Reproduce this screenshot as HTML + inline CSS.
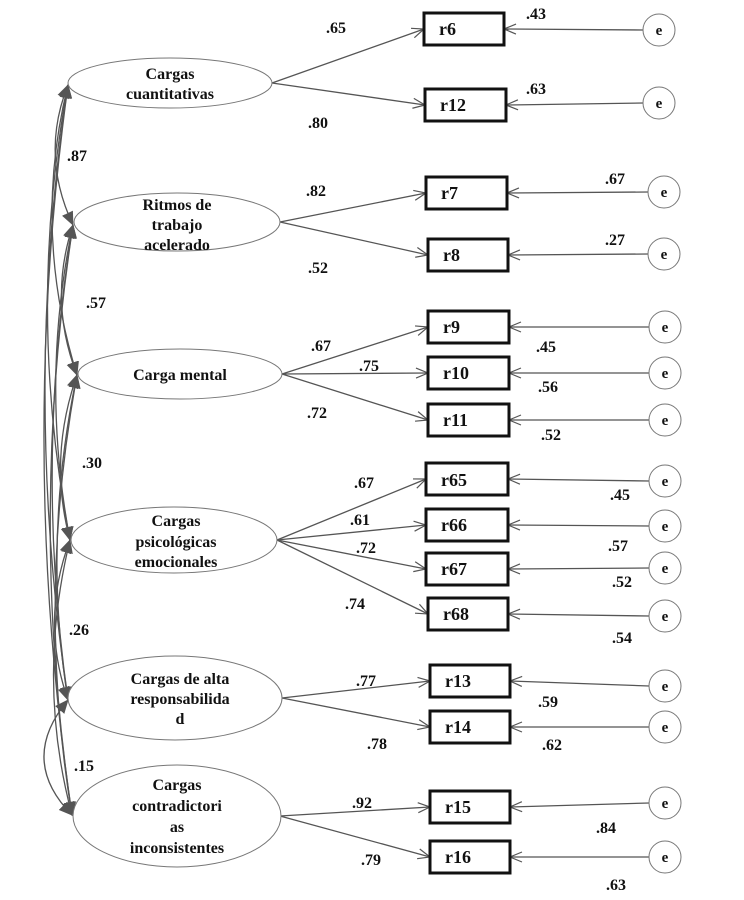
<!DOCTYPE html>
<html><head><meta charset="utf-8"><style>
html,body{margin:0;padding:0;background:#fff}
svg{display:block}
text{font-family:"Liberation Serif",serif;font-weight:bold;fill:#111}
</style></head><body>
<svg width="744" height="900" viewBox="0 0 744 900" xmlns="http://www.w3.org/2000/svg">
<defs>
<marker id="o" markerWidth="14" markerHeight="12" refX="13" refY="6" orient="auto" markerUnits="userSpaceOnUse">
<path d="M1,1 L13,6 L1,11" fill="none" stroke="#555" stroke-width="1.2"/></marker>
<marker id="f" markerWidth="14" markerHeight="14" refX="13" refY="7" orient="auto-start-reverse" markerUnits="userSpaceOnUse">
<path d="M0,1 L14,7 L0,13 z" fill="#555"/></marker>
</defs>
<g fill="none" stroke="#555" stroke-width="1.3">
<path d="M68,85 Q40,155 73,225" marker-start="url(#f)" marker-end="url(#f)"/>
<path d="M68,85 Q32,230 77,375" marker-start="url(#f)" marker-end="url(#f)"/>
<path d="M68,85 Q26,310 70,540" marker-start="url(#f)" marker-end="url(#f)"/>
<path d="M68,85 Q22,390 68,700" marker-start="url(#f)" marker-end="url(#f)"/>
<path d="M68,85 Q18,450 72,815" marker-start="url(#f)" marker-end="url(#f)"/>
<path d="M73,225 Q48,300 77,375" marker-start="url(#f)" marker-end="url(#f)"/>
<path d="M73,225 Q40,380 70,540" marker-start="url(#f)" marker-end="url(#f)"/>
<path d="M73,225 Q34,460 68,700" marker-start="url(#f)" marker-end="url(#f)"/>
<path d="M73,225 Q28,520 72,815" marker-start="url(#f)" marker-end="url(#f)"/>
<path d="M77,375 Q48,458 70,540" marker-start="url(#f)" marker-end="url(#f)"/>
<path d="M77,375 Q42,540 68,700" marker-start="url(#f)" marker-end="url(#f)"/>
<path d="M77,375 Q36,600 72,815" marker-start="url(#f)" marker-end="url(#f)"/>
<path d="M70,540 Q40,620 68,700" marker-start="url(#f)" marker-end="url(#f)"/>
<path d="M70,540 Q36,680 72,815" marker-start="url(#f)" marker-end="url(#f)"/>
<path d="M68,700 Q18,760 72,815" marker-start="url(#f)" marker-end="url(#f)"/>
<path d="M272,83 L424,29" marker-end="url(#o)"/>
<path d="M272,83 L425,105" marker-end="url(#o)"/>
<path d="M280,222 L426,193" marker-end="url(#o)"/>
<path d="M280,222 L428,255" marker-end="url(#o)"/>
<path d="M282,374 L428,327" marker-end="url(#o)"/>
<path d="M282,374 L428,373" marker-end="url(#o)"/>
<path d="M282,374 L428,420" marker-end="url(#o)"/>
<path d="M277,540 L426,479" marker-end="url(#o)"/>
<path d="M277,540 L426,525" marker-end="url(#o)"/>
<path d="M277,540 L426,569" marker-end="url(#o)"/>
<path d="M277,540 L428,614" marker-end="url(#o)"/>
<path d="M282,698 L430,681" marker-end="url(#o)"/>
<path d="M282,698 L430,727" marker-end="url(#o)"/>
<path d="M280,816 L430,807" marker-end="url(#o)"/>
<path d="M280,816 L430,857" marker-end="url(#o)"/>
<path d="M643,30 L504,29" marker-end="url(#o)"/>
<path d="M643,103 L506,105" marker-end="url(#o)"/>
<path d="M648,192 L507,193" marker-end="url(#o)"/>
<path d="M648,254 L508,255" marker-end="url(#o)"/>
<path d="M649,327 L509,327" marker-end="url(#o)"/>
<path d="M649,373 L509,373" marker-end="url(#o)"/>
<path d="M649,420 L509,420" marker-end="url(#o)"/>
<path d="M649,481 L508,479" marker-end="url(#o)"/>
<path d="M649,526 L508,525" marker-end="url(#o)"/>
<path d="M649,568 L508,569" marker-end="url(#o)"/>
<path d="M649,616 L508,614" marker-end="url(#o)"/>
<path d="M649,686 L510,681" marker-end="url(#o)"/>
<path d="M649,727 L510,727" marker-end="url(#o)"/>
<path d="M649,803 L510,807" marker-end="url(#o)"/>
<path d="M649,857 L510,857" marker-end="url(#o)"/>
</g>
<g fill="#fff" stroke="#777" stroke-width="1">
<ellipse cx="170" cy="83" rx="102" ry="25"/>
<ellipse cx="177" cy="222" rx="103" ry="29"/>
<ellipse cx="180" cy="374" rx="102" ry="25"/>
<ellipse cx="174" cy="540" rx="103" ry="33"/>
<ellipse cx="175" cy="698" rx="107" ry="42"/>
<ellipse cx="177" cy="816" rx="104" ry="51"/>
<circle cx="659" cy="30" r="16"/><circle cx="659" cy="103" r="16"/>
<circle cx="664" cy="192" r="16"/><circle cx="664" cy="254" r="16"/>
<circle cx="665" cy="327" r="16"/><circle cx="665" cy="373" r="16"/><circle cx="665" cy="420" r="16"/>
<circle cx="665" cy="481" r="16"/><circle cx="665" cy="526" r="16"/><circle cx="665" cy="568" r="16"/><circle cx="665" cy="616" r="16"/>
<circle cx="665" cy="686" r="16"/><circle cx="665" cy="727" r="16"/>
<circle cx="665" cy="803" r="16"/><circle cx="665" cy="857" r="16"/>
</g>
<g fill="#fff" stroke="#111" stroke-width="3">
<rect x="424" y="13" width="80" height="32"/>
<rect x="425" y="89" width="81" height="32"/>
<rect x="426" y="177" width="81" height="32"/>
<rect x="428" y="239" width="80" height="32"/>
<rect x="428" y="311" width="81" height="32"/>
<rect x="428" y="357" width="81" height="32"/>
<rect x="428" y="404" width="81" height="32"/>
<rect x="426" y="463" width="82" height="32"/>
<rect x="426" y="509" width="82" height="32"/>
<rect x="426" y="553" width="82" height="32"/>
<rect x="428" y="598" width="80" height="32"/>
<rect x="430" y="665" width="80" height="32"/>
<rect x="430" y="711" width="80" height="32"/>
<rect x="430" y="791" width="80" height="32"/>
<rect x="430" y="841" width="80" height="32"/>
</g>
<g font-size="18">
<text x="439" y="35">r6</text><text x="440" y="111">r12</text>
<text x="441" y="199">r7</text><text x="443" y="261">r8</text>
<text x="443" y="333">r9</text><text x="443" y="379">r10</text><text x="443" y="426">r11</text>
<text x="441" y="486">r65</text><text x="441" y="531">r66</text><text x="441" y="575">r67</text><text x="443" y="620">r68</text>
<text x="445" y="687">r13</text><text x="445" y="733">r14</text><text x="445" y="813">r15</text><text x="445" y="863">r16</text>
</g>
<g font-size="15" text-anchor="middle">
<text x="659" y="35">e</text><text x="659" y="108">e</text><text x="664" y="197">e</text><text x="664" y="259">e</text>
<text x="665" y="332">e</text><text x="665" y="378">e</text><text x="665" y="425">e</text>
<text x="665" y="486">e</text><text x="665" y="531">e</text><text x="665" y="573">e</text><text x="665" y="621">e</text>
<text x="665" y="691">e</text><text x="665" y="732">e</text><text x="665" y="808">e</text><text x="665" y="862">e</text>
</g>
<g font-size="16" text-anchor="middle">
<text x="170" y="79">Cargas</text><text x="170" y="99">cuantitativas</text>
<text x="177" y="210">Ritmos de</text><text x="177" y="230">trabajo</text><text x="177" y="250">acelerado</text>
<text x="180" y="380">Carga mental</text>
<text x="176" y="526">Cargas</text><text x="176" y="547">psicológicas</text><text x="176" y="567">emocionales</text>
<text x="180" y="684">Cargas de alta</text><text x="180" y="704">responsabilida</text><text x="180" y="724">d</text>
<text x="177" y="790">Cargas</text><text x="177" y="811">contradictori</text><text x="177" y="832">as</text><text x="177" y="853">inconsistentes</text>
</g>
<g font-size="16">
<text x="326" y="33">.65</text><text x="308" y="128">.80</text>
<text x="526" y="19">.43</text><text x="526" y="94">.63</text>
<text x="306" y="196">.82</text><text x="308" y="273">.52</text>
<text x="605" y="184">.67</text><text x="605" y="245">.27</text>
<text x="311" y="351">.67</text><text x="359" y="371">.75</text><text x="307" y="418">.72</text>
<text x="536" y="352">.45</text><text x="538" y="392">.56</text><text x="541" y="440">.52</text>
<text x="354" y="488">.67</text><text x="350" y="525">.61</text><text x="356" y="553">.72</text><text x="345" y="609">.74</text>
<text x="610" y="500">.45</text><text x="608" y="551">.57</text><text x="612" y="587">.52</text><text x="612" y="643">.54</text>
<text x="356" y="686">.77</text><text x="367" y="749">.78</text>
<text x="538" y="707">.59</text><text x="542" y="750">.62</text>
<text x="352" y="808">.92</text><text x="361" y="865">.79</text>
<text x="596" y="833">.84</text><text x="606" y="890">.63</text>
<text x="67" y="161">.87</text><text x="86" y="308">.57</text><text x="82" y="468">.30</text>
<text x="69" y="635">.26</text><text x="74" y="771">.15</text>
</g>
</svg>
</body></html>
